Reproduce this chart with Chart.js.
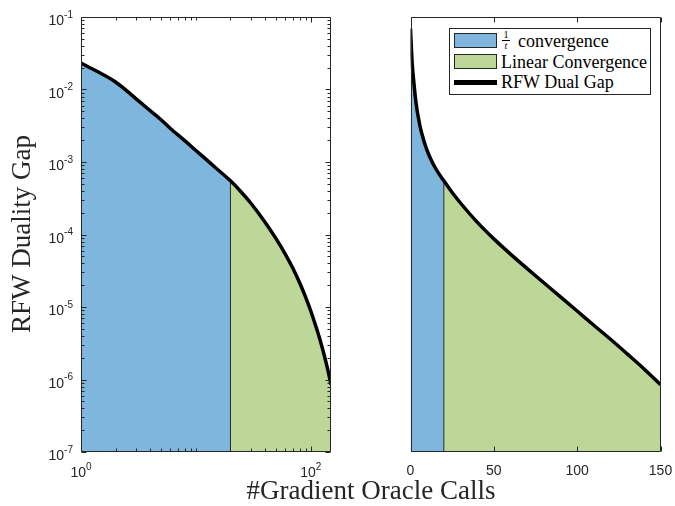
<!DOCTYPE html>
<html>
<head>
<meta charset="utf-8">
<script src="https://cdn.jsdelivr.net/npm/chart.js@4/dist/chart.umd.min.js"></script>
<style>
  body { margin: 0; background: #fff; }
  #wrap { position: relative; width: 675px; height: 506px; overflow: hidden; }
  canvas { position: absolute; left: 0; top: 0; }
  #legend { position: absolute; left: 449px; top: 28px; width: 202px; height: 67px; box-sizing: border-box;
            border: 1px solid #262626; background: #fff; font-family: "Liberation Serif", serif; font-size: 18px; color: #000; }
  #legend .patch { position: absolute; left: 4px; width: 43px; height: 15px; box-sizing: border-box; border: 1px solid #262626; }
  #legend .txt { position: absolute; left: 51px; line-height: 18px; white-space: nowrap; }
  #legend .frac { position: absolute; left: 52px; top: 1px; font-size: 10px; line-height: 10px; text-align: center; width: 8px; }
  #legend .frac span { display: block; }
</style>
</head>
<body>
<div id="wrap">
  <canvas id="leftPlot" width="675" height="506"></canvas>
  <canvas id="rightPlot" width="675" height="506"></canvas>
  <div id="legend">
    <div class="patch" style="top:4px;background:#7FB6DE"></div>
    <div class="frac"><span style="border-bottom:1px solid #000">1</span><span style="font-style:italic">t</span></div>
    <div class="txt" id="lg0" style="left:68px;top:3px"></div>
    <div class="patch" style="top:25px;background:#BDD798"></div>
    <div class="txt" id="lg1" style="top:24px"></div>
    <div style="position:absolute;left:4px;top:51px;width:43px;height:5px;background:#000"></div>
    <div class="txt" id="lg2" style="top:44px"></div>
  </div>
</div>
<script>
// data
const calls   = [0, 1, 2, 3, 4, 5, 6, 8, 10, 12, 15, 20, 25, 30, 40, 50, 60, 70, 80, 90, 100, 110, 120, 130, 140, 150];
const dualGap = [0.069, 0.0232, 0.0127, 0.0075, 0.0051, 0.0038, 0.0029, 0.00197, 0.00144, 0.00112, 0.00082, 0.00055,
                 0.00038, 0.000272, 0.000148, 0.000087, 0.0000537, 0.0000339, 0.0000216, 0.0000138, 0.0000088,
                 0.0000056, 0.00000359, 0.00000226, 0.00000141, 0.00000085];
const switchCall = 20;
const yExponents = [-7, -6, -5, -4, -3, -2, -1];
const leftXLabelled = [1, 100];
const rightXTicks = [0, 50, 100, 150];
const legendNames = ['convergence', 'Linear Convergence', 'RFW Dual Gap'];

const BLUE = '#7FB6DE', GREEN = '#BDD798', AXIS = '#262626';
const TICK_FONT = '"Liberation Sans", Arial, sans-serif';
const LABEL_FONT = '"Liberation Serif", serif';

document.getElementById('lg0').textContent = legendNames[0];
document.getElementById('lg1').textContent = legendNames[1];
document.getElementById('lg2').textContent = legendNames[2];

const pts = calls.map((c, i) => ({x: c, y: dualGap[i]}));
const gapAtSwitch = dualGap[calls.indexOf(switchCall)];
const yMin = Math.pow(10, yExponents[0]), yMax = Math.pow(10, yExponents[yExponents.length - 1]);

function makeSets(keep) {
  const p = pts.filter(q => keep(q.x));
  const smooth = {cubicInterpolationMode: 'monotone', clip: 0};
  return [
    Object.assign({data: p, borderColor: '#000', borderWidth: 3.5, fill: false, order: 0}, smooth),
    {data: [{x: switchCall, y: yMin}, {x: switchCall, y: gapAtSwitch}], borderColor: AXIS, borderWidth: 1, fill: false, order: 1, clip: 0},
    Object.assign({data: p.filter(q => q.x <= switchCall), backgroundColor: BLUE, borderWidth: 0, fill: 'start', order: 2}, smooth),
    Object.assign({data: p.filter(q => q.x >= switchCall), backgroundColor: GREEN, borderWidth: 0, fill: 'start', order: 2}, smooth)
  ];
}

function pow10Label(ctx, exp, x, y, align) {
  ctx.font = '14px ' + TICK_FONT;
  const bw = ctx.measureText('10').width;
  ctx.font = '10px ' + TICK_FONT;
  const ew = ctx.measureText(String(exp)).width;
  const x0 = align === 'right' ? x - bw - ew : x - (bw + ew) / 2;
  ctx.textAlign = 'left';
  ctx.textBaseline = 'middle';
  ctx.font = '14px ' + TICK_FONT;
  ctx.fillText('10', x0, y);
  ctx.font = '10px ' + TICK_FONT;
  ctx.fillText(String(exp), x0 + bw, y - 6.5);
}

function axesPlugin(spec) {
  return {
    id: 'matlabAxes',
    afterDatasetsDraw(chart) {
      const ctx = chart.ctx, a = chart.chartArea, sx = chart.scales.x, sy = chart.scales.y;
      ctx.save();
      ctx.strokeStyle = AXIS;
      ctx.fillStyle = AXIS;
      ctx.lineWidth = 1;
      const L = Math.round(a.left) + 0.5, R = Math.round(a.right) - 0.5;
      const T = Math.round(a.top) + 0.5, B = Math.round(a.bottom) - 0.5;
      ctx.beginPath();
      ctx.rect(L, T, R - L, B - T);
      (spec.xTicks || []).forEach(t => {
        const px = Math.round(sx.getPixelForValue(t.v)) + 0.5;
        ctx.moveTo(px, B); ctx.lineTo(px, B - t.len);
        ctx.moveTo(px, T); ctx.lineTo(px, T + t.len);
      });
      (spec.yTicks || []).forEach(t => {
        const py = Math.round(sy.getPixelForValue(t.v)) + 0.5;
        ctx.moveTo(L, py); ctx.lineTo(L + t.len, py);
        ctx.moveTo(R, py); ctx.lineTo(R - t.len, py);
      });
      ctx.stroke();
      spec.labels(ctx, chart);
      ctx.restore();
    }
  };
}

function logTicks(lo, hi) {
  const out = [];
  for (let e = Math.floor(Math.log10(lo)); e <= Math.ceil(Math.log10(hi)); e++) {
    for (let k = 1; k <= 9; k++) {
      const v = k * Math.pow(10, e);
      if (v >= lo * 0.999 && v <= hi * 1.001) out.push(v);
    }
  }
  return out;
}

const yTickList = logTicks(yMin, yMax).map(v => ({v: v, len: yExponents.some(e => Math.abs(v / Math.pow(10, e) - 1) < 1e-6) ? 5 : 3}));

function baseOptions(pad, xScale) {
  return {
    responsive: false, animation: false, devicePixelRatio: 1,
    layout: {padding: pad},
    plugins: {legend: {display: false}, tooltip: {enabled: false}},
    elements: {point: {radius: 0}, line: {tension: 0}},
    scales: {
      x: Object.assign({display: false}, xScale),
      y: {type: 'logarithmic', min: yMin, max: yMax, display: false}
    }
  };
}

new Chart(document.getElementById('leftPlot'), {
  type: 'line',
  data: {datasets: makeSets(x => x >= 1)},
  options: baseOptions({left: 81, top: 17, right: 344, bottom: 54}, {type: 'logarithmic', min: 1, max: 150}),
  plugins: [axesPlugin({
    xTicks: logTicks(1, 150).map(v => ({v: v, len: leftXLabelled.includes(v) ? 5 : 3})),
    yTicks: yTickList,
    labels(ctx, chart) {
      const sx = chart.scales.x, sy = chart.scales.y;
      yExponents.forEach(e => pow10Label(ctx, e, 73, sy.getPixelForValue(Math.pow(10, e)) + 4.5, 'right'));
      leftXLabelled.forEach(v => pow10Label(ctx, Math.round(Math.log10(v)), sx.getPixelForValue(v), 473.5, 'center'));
      ctx.fillStyle = AXIS;
      ctx.font = '27px ' + LABEL_FONT;
      ctx.textAlign = 'center';
      ctx.textBaseline = 'alphabetic';
      ctx.fillText('#Gradient Oracle Calls', 371, 499);
      ctx.save();
      ctx.translate(30, 234);
      ctx.rotate(-Math.PI / 2);
      ctx.fillText('RFW Duality Gap', 0, 0);
      ctx.restore();
    }
  })]
});

new Chart(document.getElementById('rightPlot'), {
  type: 'line',
  data: {datasets: makeSets(x => true)},
  options: baseOptions({left: 410.5, top: 17, right: 14.5, bottom: 54}, {type: 'linear', min: 0, max: 150}),
  plugins: [axesPlugin({
    xTicks: rightXTicks.map(v => ({v: v, len: 5})),
    yTicks: [],
    labels(ctx, chart) {
      const sx = chart.scales.x;
      ctx.font = '14px ' + TICK_FONT;
      ctx.textAlign = 'center';
      ctx.textBaseline = 'middle';
      rightXTicks.forEach(v => ctx.fillText(String(v), sx.getPixelForValue(v), 471));
    }
  })]
});
</script>
</body>
</html>
